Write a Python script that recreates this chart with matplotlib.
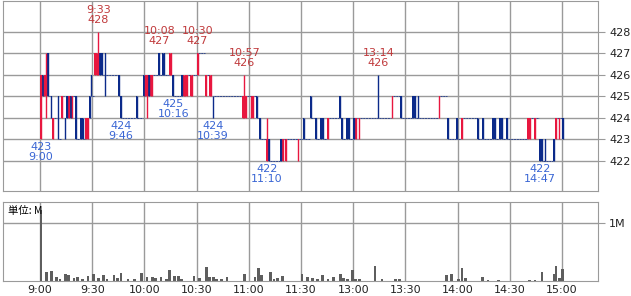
import numpy as np
import matplotlib
matplotlib.use('Agg')
import matplotlib.pyplot as plt

# Données (minutes de séance : 9:00 -> 0, 11:30 -> 150, 12:30 -> 150, 15:00 -> 300)

c_min = [0, 1, 2, 3, 4, 6, 7, 10, 12, 14,
         15, 16, 17, 18, 20, 23, 24, 26, 27, 28,
         29, 31, 32, 33, 34, 35, 37, 45, 46, 55,
         59, 60, 61, 62, 63, 64, 68, 70, 71, 74,
         75, 76, 81, 82, 83, 84, 86, 87, 90, 95,
         97, 98, 99, 116, 117, 118, 121, 122, 124, 126,
         130, 131, 138, 139, 141, 148, 151, 155, 158, 161,
         162, 165, 172, 173, 176, 177, 180, 181, 183, 194,
         202, 207, 214, 215, 217, 229, 234, 239, 242, 251,
         254, 260, 261, 264, 265, 268, 280, 281, 284, 287,
         288, 290, 295, 296, 298, 300]
c_open = [423, 426, 425, 425, 427, 425, 423, 425, 424, 424,
          425, 424, 425, 424, 425, 424, 424, 423, 423, 425,
          426, 426, 426, 426, 427, 427, 427, 426, 425, 425,
          426, 425, 425, 426, 425, 425, 427, 427, 427, 426,
          426, 426, 426, 425, 425, 425, 425, 425, 426, 425,
          425, 425, 425, 424, 424, 424, 424, 424, 425, 424,
          422, 423, 423, 422, 422, 422, 424, 425, 424, 424,
          424, 423, 425, 424, 424, 424, 424, 423, 423, 425,
          424, 425, 425, 425, 425, 424, 424, 424, 423, 424,
          424, 424, 424, 424, 424, 424, 423, 423, 423, 423,
          423, 423, 423, 423, 423, 424]
c_high = [426, 426, 426, 427, 427, 425, 424, 425, 425, 424,
          425, 425, 425, 425, 425, 424, 424, 424, 424, 425,
          426, 427, 427, 428, 427, 427, 427, 426, 425, 425,
          426, 426, 426, 426, 426, 426, 427, 427, 427, 427,
          427, 426, 426, 426, 426, 426, 426, 426, 427, 426,
          426, 426, 425, 425, 426, 425, 425, 425, 425, 424,
          424, 423, 423, 423, 423, 423, 424, 425, 424, 424,
          424, 424, 425, 424, 424, 424, 424, 424, 424, 426,
          425, 425, 425, 425, 425, 425, 424, 424, 424, 424,
          424, 424, 424, 424, 424, 424, 424, 424, 424, 423,
          423, 423, 423, 424, 424, 424]
c_low = [423, 425, 425, 424, 425, 424, 423, 423, 424, 423,
         424, 424, 424, 424, 423, 423, 423, 423, 423, 424,
         425, 426, 426, 426, 426, 426, 425, 425, 424, 424,
         425, 425, 424, 425, 425, 425, 426, 426, 426, 426,
         426, 425, 425, 425, 425, 425, 425, 425, 426, 425,
         425, 425, 424, 424, 424, 424, 424, 424, 424, 423,
         422, 422, 422, 422, 422, 422, 423, 424, 423, 423,
         423, 423, 424, 423, 423, 423, 423, 423, 423, 424,
         424, 424, 424, 424, 424, 424, 423, 423, 423, 423,
         423, 423, 423, 423, 423, 423, 423, 423, 423, 422,
         422, 422, 422, 423, 423, 423]
c_close = [426, 425, 426, 426, 425, 424, 424, 423, 425, 423,
           424, 425, 424, 425, 423, 423, 423, 424, 424, 424,
           425, 427, 427, 427, 426, 426, 426, 425, 424, 424,
           425, 426, 426, 425, 426, 426, 426, 426, 426, 427,
           427, 425, 425, 426, 426, 426, 426, 426, 427, 426,
           426, 426, 425, 425, 425, 425, 425, 425, 424, 423,
           423, 422, 422, 423, 423, 423, 423, 424, 423, 423,
           423, 424, 424, 423, 423, 423, 423, 424, 424, 424,
           425, 424, 424, 424, 424, 425, 423, 423, 424, 423,
           423, 423, 423, 423, 423, 423, 424, 424, 424, 422,
           422, 422, 422, 424, 424, 423]

# Étiquettes des extrêmes
hi_times = ['9:33', '10:08', '10:30', '10:57', '13:14']
hi_prices = [428, 427, 427, 426, 426]
lo_times = ['9:00', '9:46', '10:16', '10:39', '11:10', '14:47']
lo_prices = [423, 424, 425, 424, 422, 422]

# Volume (M)
vol_min = [0, 3, 6, 9, 11, 14, 16, 19, 21, 24,
           27, 30, 33, 36, 38, 42, 44, 46, 50, 54,
           58, 61, 64, 66, 69, 72, 74, 77, 79, 81,
           88, 91, 95, 97, 99, 101, 104, 107, 117, 123,
           125, 127, 132, 134, 136, 139, 150, 153, 156, 159,
           162, 165, 168, 172, 174, 176, 179, 181, 183, 192,
           196, 204, 206, 233, 236, 240, 242, 244, 254, 257,
           263, 281, 284, 288, 295, 296, 298, 300]
vol = [1.22, 0.16, 0.17, 0.07, 0.03, 0.12, 0.10, 0.05, 0.07, 0.03,
       0.09, 0.12, 0.05, 0.10, 0.03, 0.10, 0.05, 0.14, 0.03, 0.03,
       0.14, 0.07, 0.07, 0.05, 0.07, 0.03, 0.19, 0.09, 0.09, 0.03,
       0.09, 0.05, 0.24, 0.07, 0.07, 0.04, 0.03, 0.07, 0.12, 0.07,
       0.22, 0.10, 0.16, 0.03, 0.05, 0.09, 0.12, 0.07, 0.05, 0.03,
       0.10, 0.03, 0.07, 0.12, 0.05, 0.03, 0.19, 0.03, 0.04, 0.26,
       0.04, 0.03, 0.03, 0.10, 0.12, 0.03, 0.22, 0.05, 0.07, 0.02,
       0.02, 0.02, 0.02, 0.16, 0.12, 0.26, 0.05, 0.21]

tick_min = [0, 30, 60, 90, 120, 150, 180, 210, 240, 270, 300]
tick_lab = ['9:00', '9:30', '10:00', '10:30', '11:00', '11:30',
            '13:00', '13:30', '14:00', '14:30', '15:00']


def to_min(t):
    h, m = map(int, t.split(':'))
    m = (h - 9) * 60 + m
    return m if m <= 150 else m - 60


RED = '#e8173f'
NAVY = '#0b2a8a'
GRID = '#9a9a9a'

o = np.array(c_open)
c = np.array(c_close)
x = np.array(c_min) + 0.5
col = np.where(c > o, RED, NAVY)

fig = plt.figure(figsize=(6.31, 2.96), dpi=100)
ax = fig.add_axes([3/631, 1 - 191/296, 595/631, 190/296])
axv = fig.add_axes([3/631, 1 - 281/296, 595/631, 79/296])

for a in (ax, axv):
    a.set_xlim(-21.3, 320.7)
    a.set_xticks(tick_min)
    a.grid(color=GRID, lw=1)
    a.set_axisbelow(True)
    for s in a.spines.values():
        s.set_color(GRID)
    a.yaxis.tick_right()
    a.tick_params(axis='y', length=5, color=GRID, labelsize=8, pad=3,
                  labelcolor='#222222')

# paliers de prix entre les bougies
ax.hlines(c[:-1], np.array(c_min[:-1]) + 1, np.array(c_min[1:]),
          color=NAVY, lw=0.5, linestyles=(0, (3, 1)))
ax.vlines(x, c_low, c_high, colors=col, lw=1)
ax.bar(x, np.abs(c - o), bottom=np.minimum(o, c), width=0.9, color=col)

ax.set_ylim(420.6, 429.44)
ax.set_yticks(range(422, 429))
ax.tick_params(axis='x', length=0, labelbottom=False)

for t, p in zip(hi_times, hi_prices):
    ax.annotate(f'{t}\n{p}', (to_min(t) + 0.5, p), xytext=(0, 5),
                textcoords='offset points', ha='center', va='bottom',
                fontsize=8, color='#c0393b', linespacing=1.0)
for t, p in zip(lo_times, lo_prices):
    ax.annotate(f'{p}\n{t}', (to_min(t) + 0.5, p), xytext=(0, -2),
                textcoords='offset points', ha='center', va='top',
                fontsize=8, color='#3a66d4', linespacing=1.0)

axv.bar(np.array(vol_min) + 0.5, vol, width=1.6, color='#5e5e5e')
axv.set_ylim(0, 1.362)
axv.set_yticks([1])
axv.set_yticklabels(['1M'])
axv.set_xticklabels(tick_lab)
axv.tick_params(axis='x', length=0, labelsize=8, pad=3, labelcolor='#222222')
axv.text(0.008, 0.95, '単位: M', transform=axv.transAxes, va='top',
         fontsize=7.5, family=['Noto Sans CJK JP', 'DejaVu Sans'])

fig.savefig('out.png', dpi=100)
